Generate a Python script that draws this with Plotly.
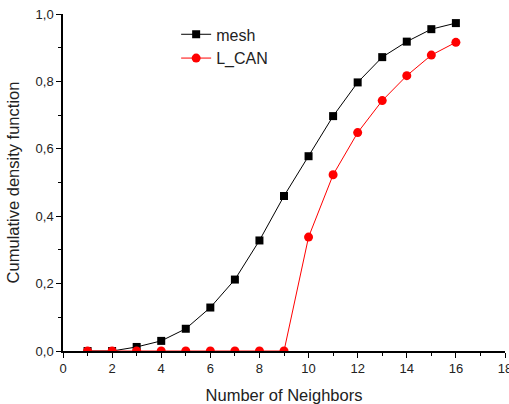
import plotly.graph_objects as go

neighbors = list(range(1, 17))
mesh = [0.0, 0.0, 0.012, 0.030, 0.066, 0.129, 0.212, 0.328, 0.460, 0.578, 0.697, 0.797, 0.872, 0.918, 0.955, 0.973]
l_can = [0.0, 0.0, 0.0, 0.0, 0.0, 0.0, 0.0, 0.0, 0.0, 0.338, 0.523, 0.648, 0.743, 0.817, 0.878, 0.916]

FONT = "Liberation Sans, Arial"
fig = go.Figure()
fig.add_trace(go.Scatter(x=neighbors, y=mesh, name="mesh", mode="lines+markers",
                         line=dict(color="black", width=1),
                         marker=dict(symbol="square", size=8, color="black")))
fig.add_trace(go.Scatter(x=neighbors, y=l_can, name="L_CAN", mode="lines+markers",
                         line=dict(color="red", width=1),
                         marker=dict(symbol="circle", size=9, color="red")))

axis_common = dict(showline=True, linecolor="black", linewidth=1.5, ticks="outside",
                   ticklen=5, tickwidth=1.2, tickcolor="black", showgrid=False, zeroline=False,
                   ticklabeloverflow="allow", automargin=False,
                   tickfont=dict(family=FONT, size=13, color="#222"))
fig.update_xaxes(range=[0, 18], tick0=0, dtick=2, title=dict(text="Number of Neighbors",
                 font=dict(family=FONT, size=16.5, color="#222"), standoff=14),
                 minor=dict(ticks="outside", ticklen=3, dtick=1, tick0=0, tickcolor="black"),
                 **axis_common)
fig.update_yaxes(range=[0, 1.0], tick0=0, dtick=0.2, tickformat=".1f",
                 title=dict(text="Cumulative density function",
                 font=dict(family=FONT, size=16.5, color="#222"), standoff=12),
                 minor=dict(ticks="outside", ticklen=3, dtick=0.1, tick0=0, tickcolor="black"),
                 **axis_common)
fig.update_layout(width=509, height=404, margin=dict(l=63, r=4, t=14, b=53),
                  plot_bgcolor="white", paper_bgcolor="white", separators=",.",
                  legend=dict(x=0.256, y=0.99, xanchor="left", yanchor="top",
                              bgcolor="rgba(0,0,0,0)", tracegroupgap=0,
                              font=dict(family=FONT, size=16, color="#222")))
fig.write_html("out.html")
